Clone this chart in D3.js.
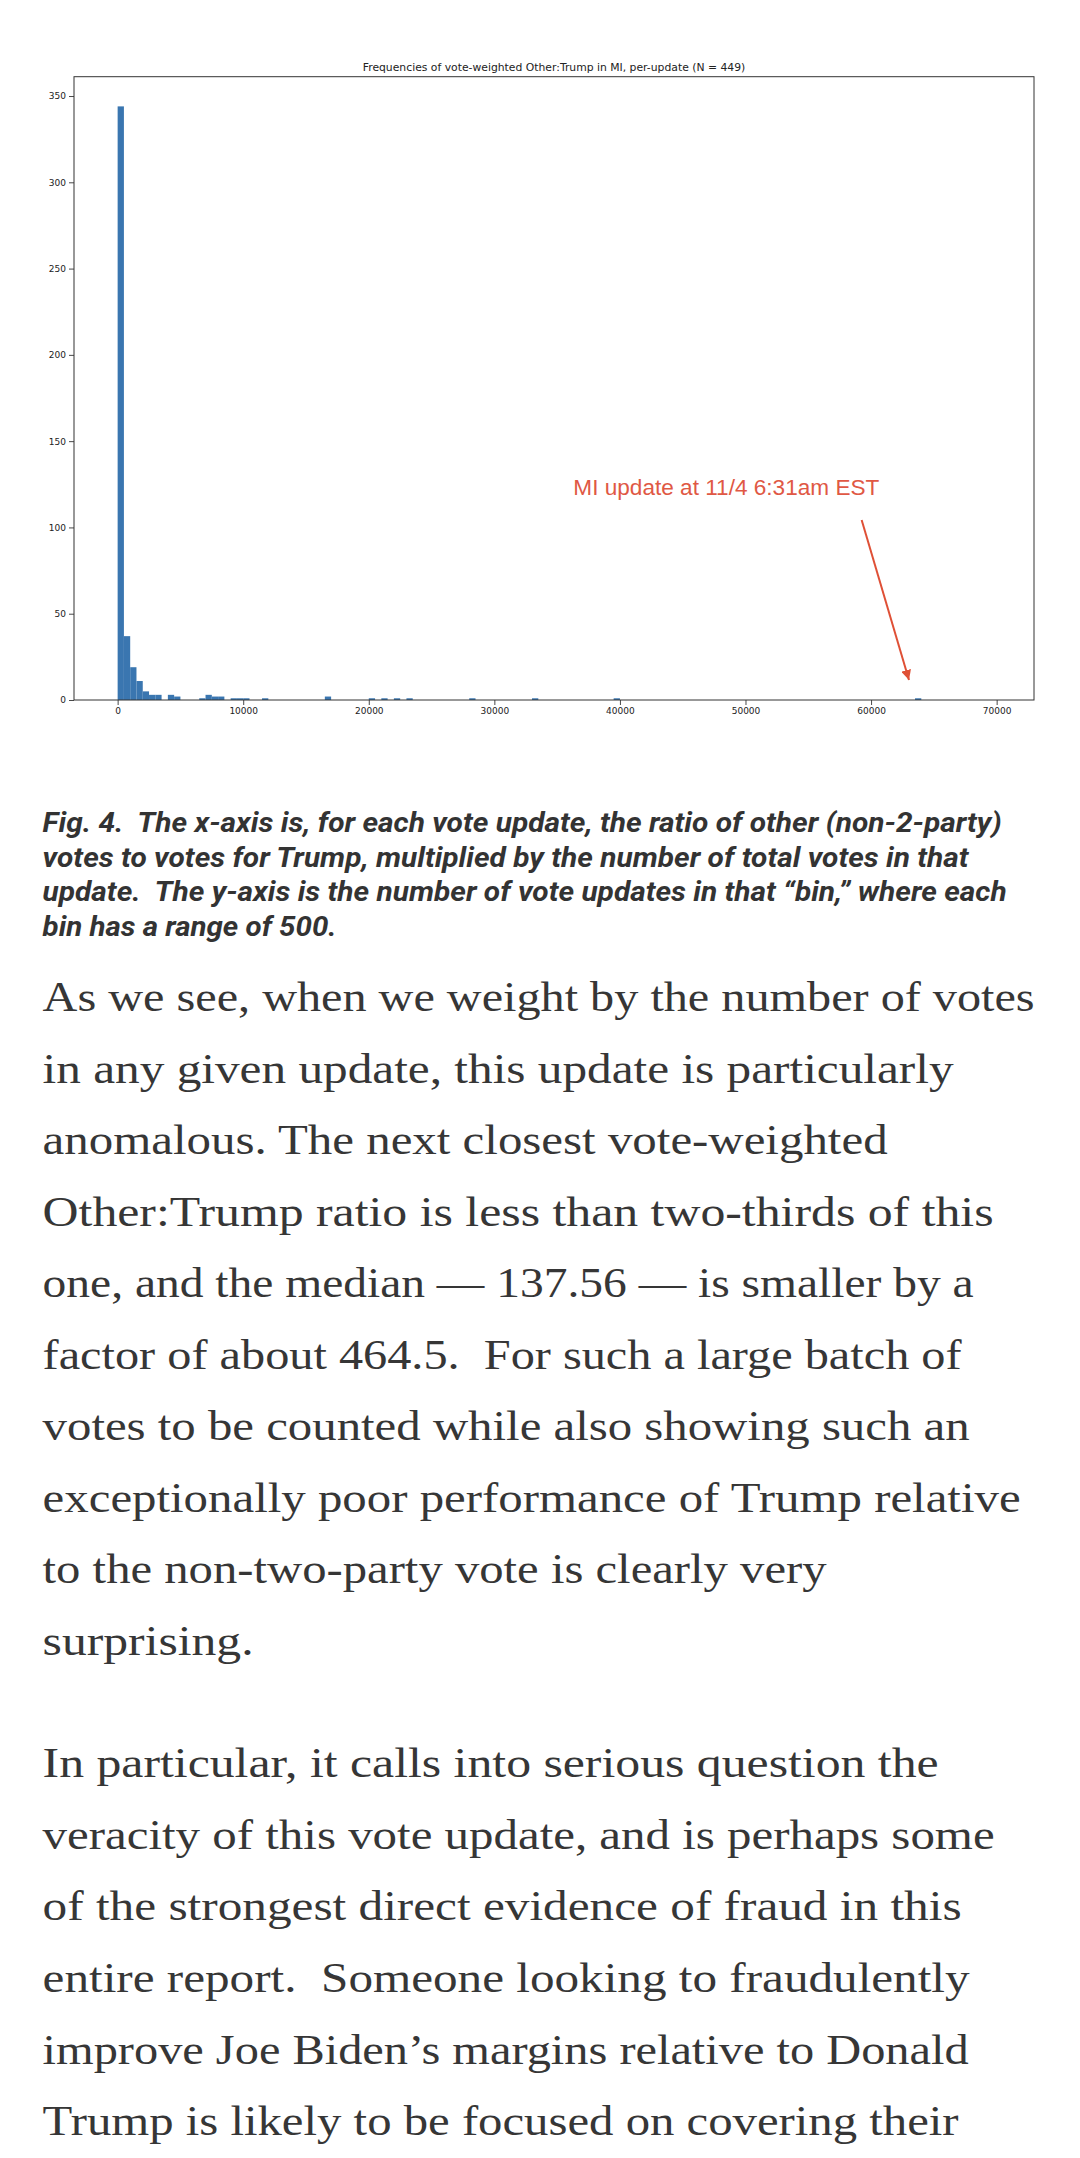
<!DOCTYPE html>
<html>
<head>
<meta charset="utf-8">
<script src="https://cdn.jsdelivr.net/npm/d3@7"></script>
<style>
html,body{margin:0;padding:0;background:#fff;}
svg{display:block;}
</style>
</head>
<body>
<svg id="page" width="1080" height="2158"></svg>
<script>
// ---------- DATA ----------
const chartTitle = "Frequencies of vote-weighted Other:Trump in MI, per-update (N = 449)";
const binWidth = 500;
const binStarts = [0, 500, 1000, 1500, 2000, 2500, 3000, 4000, 4500, 6500, 7000, 7500, 8000, 9000, 9500, 10000, 11500, 16500, 20000, 21000, 22000, 23000, 28000, 33000, 39500, 63500];
const binCounts = [344, 37, 19, 11, 5, 3, 3, 3, 2, 1, 3, 2, 2, 1, 1, 1, 1, 2, 1, 1, 1, 1, 1, 1, 1, 1];
const binRange = [0, 69500];
const xTicks = [0, 10000, 20000, 30000, 40000, 50000, 60000, 70000];
const yTicks = [0, 50, 100, 150, 200, 250, 300, 350];
const annotationText = "MI update at 11/4 6:31am EST";
const annotationTextPos = [36290, 118.8];
const annotationArrowFrom = [59250, 104.3];
const annotationArrowTo = [63020, 11.6];
const captionLines = [
  "Fig. 4.  The x-axis is, for each vote update, the ratio of other (non-2-party)",
  "votes to votes for Trump, multiplied by the number of total votes in that",
  "update.  The y-axis is the number of vote updates in that \u201cbin,\u201d where each",
  "bin has a range of 500."
];
const captionWidths = [959, 926, 964, 294];
const paragraph1 = [
  "As we see, when we weight by the number of votes",
  "in any given update, this update is particularly",
  "anomalous. The next closest vote-weighted",
  "Other:Trump ratio is less than two-thirds of this",
  "one, and the median \u2014 137.56 \u2014 is smaller by a",
  "factor of about 464.5.  For such a large batch of",
  "votes to be counted while also showing such an",
  "exceptionally poor performance of Trump relative",
  "to the non-two-party vote is clearly very",
  "surprising."
];
const paragraph1Widths = [992, 911, 845, 951, 931, 919, 927, 978, 784, 211];
const paragraph2 = [
  "In particular, it calls into serious question the",
  "veracity of this vote update, and is perhaps some",
  "of the strongest direct evidence of fraud in this",
  "entire report.  Someone looking to fraudulently",
  "improve Joe Biden\u2019s margins relative to Donald",
  "Trump is likely to be focused on covering their"
];
const paragraph2Widths = [896, 952, 919, 927, 926, 916];

// ---------- LAYOUT ----------
const svg = d3.select("#page");
const plot = {left: 74, right: 1034, top: 76.7, bottom: 700};
const xPad = (binRange[1] - binRange[0]) * 0.05;
const yMax = d3.max(binCounts) * 1.05;

const x = d3.scaleLinear().domain([binRange[0] - xPad, binRange[1] + xPad]).range([plot.left, plot.right]);
const y = d3.scaleLinear().domain([0, yMax]).range([plot.bottom, plot.top]);

const bins = binStarts.map((s, i) => ({x0: s, x1: s + binWidth, n: binCounts[i]}));

const g = svg.append("g");

// bars
g.selectAll("rect.bar").data(bins).enter().append("rect")
  .attr("class", "bar")
  .attr("x", d => x(d.x0))
  .attr("width", d => x(d.x1) - x(d.x0))
  .attr("y", d => y(d.n))
  .attr("height", d => y(0) - y(d.n))
  .attr("fill", "#3a76b0");

// axes
const xAxis = d3.axisBottom(x).tickValues(xTicks).tickFormat(d3.format("d")).tickSizeOuter(0).tickSize(5).tickPadding(3);
const yAxis = d3.axisLeft(y).tickValues(yTicks).tickFormat(d3.format("d")).tickSizeOuter(0).tickSize(5).tickPadding(3);

const gx = g.append("g").attr("transform", `translate(0,${plot.bottom})`).call(xAxis);
const gy = g.append("g").attr("transform", `translate(${plot.left},0)`).call(yAxis);
[gx, gy].forEach(a => {
  a.select(".domain").remove();
  a.selectAll("line").attr("stroke", "#333").attr("stroke-width", 0.9);
  a.selectAll("text").attr("font-family", "DejaVu Sans").attr("font-size", 9).attr("fill", "#222");
});

// frame (spines)
g.append("rect")
  .attr("x", plot.left).attr("y", plot.top)
  .attr("width", plot.right - plot.left).attr("height", plot.bottom - plot.top)
  .attr("fill", "none").attr("stroke", "#333").attr("stroke-width", 1);

// title
g.append("text")
  .attr("x", (plot.left + plot.right) / 2).attr("y", 70.5)
  .attr("text-anchor", "middle")
  .attr("font-family", "DejaVu Sans").attr("font-size", 10.8).attr("fill", "#222")
  .text(chartTitle);

// annotation
const defs = svg.append("defs");
defs.append("marker").attr("id", "ah")
  .attr("viewBox", "0 0 10 10").attr("refX", 10).attr("refY", 5)
  .attr("markerWidth", 5).attr("markerHeight", 5).attr("orient", "auto")
  .attr("markerUnits", "strokeWidth")
  .append("path").attr("d", "M0,0 L10,5 L0,10 z").attr("fill", "#df5036");

g.append("line")
  .attr("x1", x(annotationArrowFrom[0])).attr("y1", y(annotationArrowFrom[1]))
  .attr("x2", x(annotationArrowTo[0])).attr("y2", y(annotationArrowTo[1]))
  .attr("stroke", "#df5036").attr("stroke-width", 2)
  .attr("marker-end", "url(#ah)");

g.append("text")
  .attr("x", x(annotationTextPos[0])).attr("y", y(annotationTextPos[1]))
  .attr("font-family", "Liberation Sans").attr("font-size", 22.6).attr("fill", "#e05844")
  .text(annotationText);

// caption
svg.append("g").selectAll("text").data(captionLines).enter().append("text")
  .attr("x", 42.6)
  .attr("y", (d, i) => 832 + i * 34.5)
  .attr("font-family", "Roboto").attr("font-weight", 700).attr("font-style", "italic")
  .attr("font-size", 27.5).attr("fill", "#333")
  .attr("textLength", (d, i) => captionWidths[i])
  .attr("lengthAdjust", "spacingAndGlyphs")
  .attr("xml:space", "preserve")
  .text(d => d);

// body text
function drawParagraph(lines, widths, firstBaseline) {
  svg.append("g").selectAll("text").data(lines).enter().append("text")
    .attr("x", 42.6)
    .attr("y", (d, i) => firstBaseline + i * 71.55)
    .attr("font-family", "Liberation Serif")
    .attr("font-size", 43).attr("fill", "#363636")
    .attr("textLength", (d, i) => widths[i])
    .attr("lengthAdjust", "spacingAndGlyphs")
    .attr("xml:space", "preserve")
    .text(d => d);
}
drawParagraph(paragraph1, paragraph1Widths, 1011);
drawParagraph(paragraph2, paragraph2Widths, 1011 + 9 * 71.55 + 122.4);
</script>
</body>
</html>
